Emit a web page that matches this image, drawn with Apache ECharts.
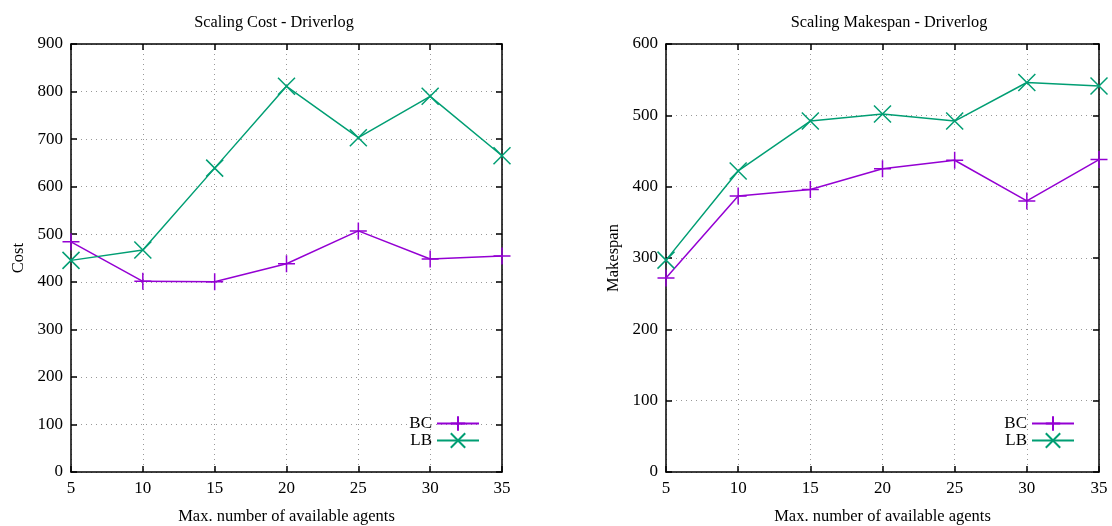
<!DOCTYPE html>
<html>
<head>
<meta charset="utf-8">
<script src="https://cdn.jsdelivr.net/npm/echarts@6/dist/echarts.min.js"></script>
<style>
  html, body { margin: 0; padding: 0; background: #fff; }
  #main { width: 1112px; height: 526px; }
</style>
</head>
<body>
<div id="main"></div>
<script>
// agents on the x axis
var agents = [5, 10, 15, 20, 25, 30, 35];

// Scaling Cost - Driverlog
var costBC = [484, 401, 400, 438, 507, 448, 454];
var costLB = [445, 467, 639, 811, 703, 790, 665];

// Scaling Makespan - Driverlog
var spanBC = [272, 387, 396, 425, 437, 380, 438];
var spanLB = [297, 422, 492, 502, 492, 546, 541];

var FONT = 'Liberation Serif';
var PURPLE = '#9400d3';
var GREEN = '#009e73';
var PLUS = 'path://M1,0L1,2M0,1L2,1';
var CROSS = 'path://M0,0L2,2M2,0L0,2';

function pairs(ys) {
  return agents.map(function (a, i) { return [a, ys[i]]; });
}

function xAxes(grid) {
  var base = {
    gridIndex: grid, type: 'value', min: 5, max: 35, interval: 5,
    axisLine: { onZero: false, lineStyle: { color: '#000', width: 1.5 } },
    axisTick: { inside: true, length: 6, lineStyle: { color: '#000', width: 1.5 } }
  };
  return [
    Object.assign({}, base, {
      position: 'bottom',
      name: 'Max. number of available agents', nameLocation: 'middle', nameGap: 36,
      nameTextStyle: { fontFamily: FONT, fontSize: 16.5, color: '#000' },
      axisLabel: { fontFamily: FONT, fontSize: 17, color: '#000', margin: 8 },
      splitLine: { show: true, lineStyle: { color: '#999', type: [1, 4], width: 1 } }
    }),
    Object.assign({}, base, {
      position: 'top', axisLabel: { show: false }, splitLine: { show: false }
    })
  ];
}

function yAxes(grid, max, title, gap) {
  var base = {
    gridIndex: grid, type: 'value', min: 0, max: max, interval: 100,
    axisLine: { show: true, onZero: false, lineStyle: { color: '#000', width: 1.5 } },
    axisTick: { show: true, inside: true, length: 6, lineStyle: { color: '#000', width: 1.5 } }
  };
  return [
    Object.assign({}, base, {
      position: 'left',
      name: title, nameLocation: 'middle', nameGap: gap, nameRotate: 90,
      nameTextStyle: { fontFamily: FONT, fontSize: 16.5, color: '#000' },
      axisLabel: { fontFamily: FONT, fontSize: 17, color: '#000', margin: 8 },
      splitLine: { show: true, lineStyle: { color: '#999', type: [1, 4], width: 1 } }
    }),
    Object.assign({}, base, {
      position: 'right', axisLabel: { show: false }, splitLine: { show: false }
    })
  ];
}

function series(name, data, xi, yi, color, symbol) {
  return {
    name: name, type: 'line', xAxisIndex: xi, yAxisIndex: yi,
    data: pairs(data), clip: false,
    symbol: symbol, symbolSize: 17,
    lineStyle: { color: color, width: 1.5 },
    itemStyle: { color: color, borderColor: color, borderWidth: 1.5 },
    emphasis: { disabled: true }
  };
}

function legend(right) {
  return {
    data: ['BC', 'LB'], orient: 'vertical', right: right, top: 410,
    align: 'right', itemWidth: 42, itemHeight: 18, itemGap: 0,
    textStyle: { fontFamily: FONT, fontSize: 17, color: '#000' }
  };
}

var chart = echarts.init(document.getElementById('main'));
var option = {
  backgroundColor: '#fff',
  animation: false,
  title: [
    { text: 'Scaling Cost - Driverlog', left: 269, top: 10, textAlign: 'center',
      textStyle: { fontFamily: FONT, fontSize: 16.3, fontWeight: 'normal', color: '#000' } },
    { text: 'Scaling Makespan - Driverlog', left: 884, top: 10, textAlign: 'center',
      textStyle: { fontFamily: FONT, fontSize: 16.3, fontWeight: 'normal', color: '#000' } }
  ],
  legend: [legend(627), legend(32)],
  grid: [
    { left: 71, right: 610, top: 44, bottom: 54, outerBoundsMode: 'none' },
    { left: 666, right: 13, top: 44, bottom: 54, outerBoundsMode: 'none' }
  ],
  xAxis: xAxes(0).concat(xAxes(1)),
  yAxis: yAxes(0, 900, 'Cost', 44).concat(yAxes(1, 600, 'Makespan', 44)),
  series: [
    series('BC', costBC, 0, 0, PURPLE, PLUS),
    series('LB', costLB, 0, 0, GREEN, CROSS),
    series('BC', spanBC, 2, 2, PURPLE, PLUS),
    series('LB', spanLB, 2, 2, GREEN, CROSS)
  ]
};
chart.setOption(option);
</script>
</body>
</html>
